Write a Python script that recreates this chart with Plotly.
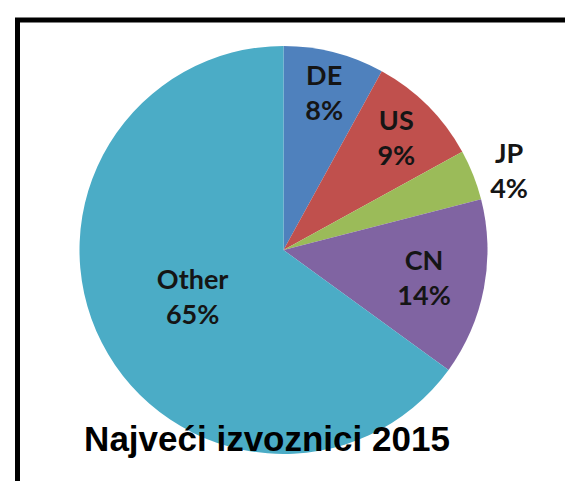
import plotly.graph_objects as go

labels = ["DE", "US", "JP", "CN", "Other"]
values = [8, 9, 4, 14, 65]
colors = ["#4F81BD", "#C0504D", "#9BBB59", "#8064A2", "#4BACC6"]
text_positions = ["inside", "inside", "outside", "inside", "inside"]
title_text = "Najveći izvoznici 2015"

W, H = 573, 481

fig = go.Figure(go.Pie(
    labels=labels,
    values=values,
    sort=False,
    direction="clockwise",
    rotation=0,
    marker=dict(colors=colors, line=dict(width=0)),
    texttemplate="%{label}<br>%{value}%",
    textposition=text_positions,
    insidetextorientation="horizontal",
    textfont=dict(family="Lato", size=27, color="#151515", weight="bold"),
    showlegend=False,
    hoverinfo="skip",
    domain=dict(x=[70 / W, 481 / W], y=[1 - 446 / H, 1 - 38 / H]),
    automargin=False,
))

fig.update_layout(
    width=W, height=H,
    margin=dict(l=0, r=0, t=0, b=0),
    paper_bgcolor="white",
    title=dict(text="<b>" + title_text + "</b>", x=259 / W, xanchor="center",
               y=1 - 431 / H, yanchor="middle",
               font=dict(family="Liberation Sans, Arial", size=35, color="black")),
    shapes=[
        dict(type="line", xref="paper", yref="paper", x0=7 / W, x1=1, y0=1 - 12 / H, y1=1 - 12 / H,
             line=dict(color="black", width=5)),
        dict(type="line", xref="paper", yref="paper", x0=9.5 / W, x1=9.5 / W, y0=0, y1=1 - 10 / H,
             line=dict(color="black", width=5)),
    ],
)

fig.write_html("out.html")
